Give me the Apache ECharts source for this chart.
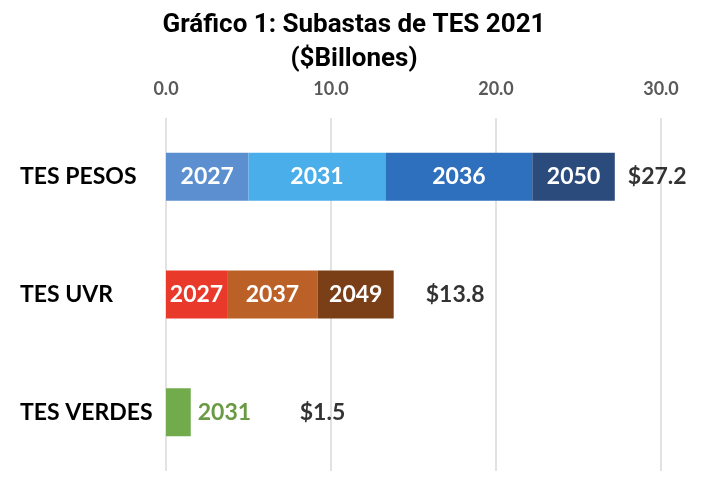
<!DOCTYPE html>
<html>
<head>
<meta charset="utf-8">
<script src="https://cdn.jsdelivr.net/npm/echarts@6/dist/echarts.min.js"></script>
<style>html,body{margin:0;padding:0;background:#fff}#c{width:708px;height:483px}</style>
</head>
<body>
<div id="c"></div>
<script>
const categories = ['TES PESOS', 'TES UVR', 'TES VERDES'];
const xTicks = [0, 10, 20, 30];
const pesosValues = [5.0, 8.3, 8.9, 5.0];
const pesosYears = ['2027', '2031', '2036', '2050'];
const uvrValues = [3.7, 5.5, 4.6];
const uvrYears = ['2027', '2037', '2049'];
const verdesValues = [1.5];
const verdesYears = ['2031'];

const pesosColors = ['#5b8fd0', '#4aaeea', '#2e70bd', '#2b4b7c'];
const uvrColors = ['#e8392b', '#bb6128', '#7b3f18'];
const verdesColors = ['#72ab4c'];

const groups = [
  {vals: pesosValues, years: pesosYears, colors: pesosColors},
  {vals: uvrValues, years: uvrYears, colors: uvrColors},
  {vals: verdesValues, years: verdesYears, colors: verdesColors}
];
const FONT = 'Lato';
const series = [];
groups.forEach((g, ci) => {
  g.vals.forEach((v, si) => {
    const data = categories.map((_, k) => k === ci ? v : '-');
    const outside = ci === 2;
    series.push({
      type: 'bar', stack: 'total', barWidth: 48,
      data: data,
      itemStyle: {color: g.colors[si]},
      label: {
        show: true,
        position: outside ? 'right' : 'inside',
        distance: 7,
        formatter: () => g.years[si],
        color: outside ? '#6b9a45' : '#ffffff',
        fontFamily: FONT, fontWeight: 'bold', fontSize: 23
      },
      silent: true
    });
  });
});
const totals = groups.map(g => Math.round(g.vals.reduce((a, b) => a + b, 0) * 10) / 10);
const totalOffsets = [13, 32, 109];
series.push({
  type: 'scatter', symbolSize: 0,
  data: totals.map((t, i) => ({
    value: [t, categories[i]],
    label: {show: true, position: 'right', distance: totalOffsets[i],
      formatter: '$' + t.toFixed(1),
      color: '#000', fontFamily: FONT, fontWeight: 'bold', fontSize: 23}
  })),
  silent: true
});

const chart = echarts.init(document.getElementById('c'), null, {renderer: 'canvas'});
chart.setOption({
  animation: false,
  title: {
    text: 'Gráfico 1: Subastas de TES 2021\n($Billones)',
    left: 'center', top: 3,
    textStyle: {fontFamily: 'Roboto', fontWeight: 'bold', fontSize: 26, lineHeight: 34, color: '#000'}
  },
  grid: {left: 166, right: 47, top: 118, bottom: 12},
  xAxis: {
    type: 'value', position: 'top', min: xTicks[0], max: xTicks[xTicks.length - 1], interval: 10,
    axisLine: {show: false}, axisTick: {show: false},
    splitLine: {show: true, lineStyle: {color: '#d9d9d9', width: 1.5}},
    axisLabel: {margin: 20, formatter: v => v.toFixed(1), color: '#595959', fontFamily: FONT, fontWeight: 'bold', fontSize: 18}
  },
  yAxis: {
    type: 'category', data: categories, inverse: true,
    axisLine: {show: false}, axisTick: {show: false},
    axisLabel: {align: 'left', margin: 146, color: '#000', fontFamily: FONT, fontWeight: 'bold', fontSize: 23}
  },
  series: series
});
</script>
</body>
</html>
